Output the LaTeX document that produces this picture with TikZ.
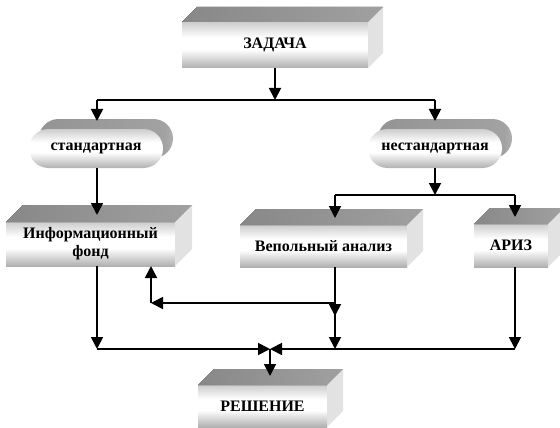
\documentclass[tikz,border=0pt]{standalone}
\usepackage{fontspec}
\setmainfont{Liberation Serif}
\usetikzlibrary{arrows.meta,shapes.misc,calc}
\definecolor{mA}{HTML}{6E6E6E}
\definecolor{mB}{HTML}{A4A4A4}
\definecolor{mC}{HTML}{FFFFFF}
\definecolor{mD}{HTML}{BEBEBE}
\definecolor{mE}{HTML}{6A6A6A}
\definecolor{topL}{HTML}{888888}
\definecolor{topR}{HTML}{A0A0A0}
\definecolor{sideC}{HTML}{E2E2E2}
\definecolor{cbA}{HTML}{8C8C8C}
\definecolor{cbB}{HTML}{A2A2A2}
\definecolor{cbC}{HTML}{F0F0F0}
\definecolor{cbD}{HTML}{CFCFCF}
\pgfdeclareverticalshading{metal}{100bp}{color(0bp)=(mA); color(22bp)=(mB); color(45bp)=(mC); color(58bp)=(mC); color(80bp)=(mD); color(100bp)=(mE)}
\pgfdeclarehorizontalshading{capback}{100bp}{color(0bp)=(cbA); color(72bp)=(cbB); color(90bp)=(cbC); color(100bp)=(cbD)}
\newcommand\mybox[7]{%
  \node[frontbox, minimum width=#4pt, minimum height=#5pt] (#1) at (#2,#3) {#7};
  \fill[topface] (#1.north west) -- ++(#6,-#6) -- ($(#1.north east)+(#6,-#6)$) -- (#1.north east) -- cycle;
  \fill[sideface] (#1.north east) -- ++(#6,-#6) -- ($(#1.south east)+(#6,-#6)$) -- (#1.south east) -- cycle;
}
\newcommand\mycap[4]{%
  \node[capb] (#1b) at ({#2+10},{#3-10}) {};
  \node[capf] (#1) at (#2,#3) {#4};
}
\begin{document}
\begin{tikzpicture}[x=1pt,y=-1pt,
  txt/.style={font=\bfseries\fontsize{16}{18}\selectfont, text=black, align=center},
  frontbox/.style={txt, rectangle, shading=metal, inner sep=0pt, outer sep=0pt},
  topface/.style={left color=topL, right color=topR},
  sideface/.style={fill=sideC},
  capf/.style={txt, rounded rectangle, shading=metal, minimum width=134pt, minimum height=39pt, inner sep=0pt, outer sep=0pt},
  capb/.style={rounded rectangle, shading=capback, minimum width=134pt, minimum height=39pt, inner sep=0pt, outer sep=0pt},
  line/.style={line width=1.8pt},
  arr/.style={line width=1.8pt, -{Triangle[length=12pt,width=12pt]}}]
\useasboundingbox (0,0) rectangle (560,428);
% boxes
\mybox{zad}{275}{45}{186}{46}{15}{ЗАДАЧА}
\mycap{std}{96}{148.5}{стандартная}
\mycap{nst}{435}{148.5}{нестандартная}
\mybox{info}{90.5}{244}{169}{44}{17}{Информационный\\фонд}
\mybox{vep}{323.5}{246}{167}{42}{16}{Вепольный анализ}
\mybox{ariz}{511}{245.5}{74}{43}{16}{АРИЗ}
\mybox{resh}{262.5}{406}{129}{42}{16}{РЕШЕНИЕ}
% coordinates
\coordinate (tj) at (275,100);
\coordinate (tl) at (97,100);
\coordinate (tr) at (435,100);
\coordinate (nj) at (435,195);
\coordinate (nl) at (335,195);
\coordinate (nr) at (515,195);
\coordinate (bl) at (97,349);
\coordinate (bm) at (270,349);
\coordinate (bv) at (335,349);
\coordinate (br) at (515,349);
\coordinate (vb) at (335,303);
\coordinate (vm) at (335,316);
\coordinate (fb) at (151,303);
% connectors top
\draw[arr] (zad.south -| tj) -- (tj);
\draw[line] (tl) -- (tr);
\draw[arr] (tl) -- (tl |- stdb.north) -- ++(0,2);
\draw[arr] (tr) -- (tr |- nstb.north) -- ++(0,2);
\draw[arr] (std.south -| tl) -- ($(info.north -| tl)+(0,-7)$);
\draw[arr] (nst.south -| nj) -- (nj);
\draw[line] (nl) -- (nr);
\draw[arr] (nl) -- ($(vep.north -| nl)+(0,-7)$);
\draw[arr] (nr) -- ($(ariz.north -| nr)+(0,-7)$);
% connectors bottom
\draw[arr] (info.south -| bl) -- (bl);
\draw[arr] (vep.south -| vb) -- (vm);
\draw[arr] (vb) -- (bv);
\draw[arr] (ariz.south -| br) -- (br);
\draw[arr] (vb) -- (fb);
\draw[arr] (fb) -- (info.south -| fb);
\draw[arr] (bl) -- (bm);
\draw[arr] (br) -- (bm);
\draw[arr] (bm) -- ($(resh.north -| bm)+(0,-9)$);
\end{tikzpicture}
\end{document}
